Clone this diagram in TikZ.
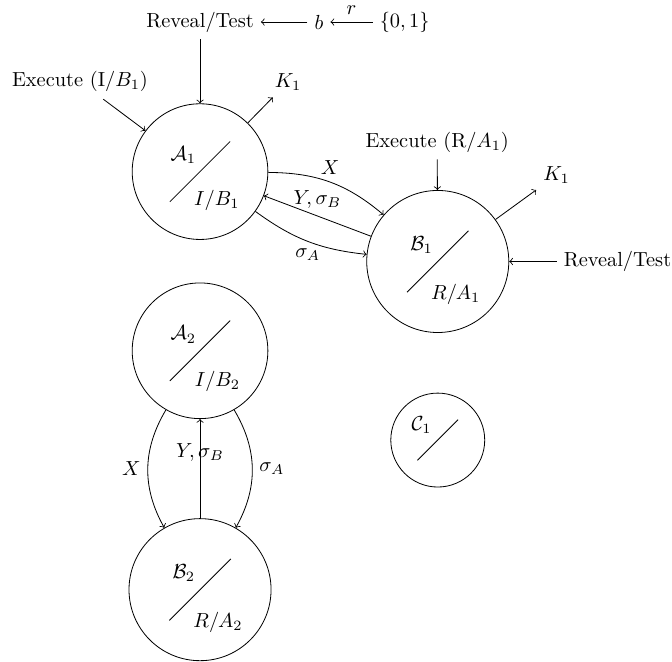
\documentclass[tikz,border=0pt]{standalone}
\usepackage{amssymb}

\begin{document}
\begin{tikzpicture}[
  party/.style={draw, circle, inner sep=0pt, minimum size=2.34cm},
  bigparty/.style={party, minimum size=2.45cm},
  smallparty/.style={party, minimum size=1.62cm}]
  \useasboundingbox (0,0) rectangle (11.59,-11.41);

  \node (A1) at (3.45,-2.96) [party] {};
  \node (B1) at (7.55,-4.51) [bigparty] {};
  \node (A2) at (3.45,-6.05) [party] {};
  \node (B2) at (3.45,-10.17) [bigparty] {};
  \node (C1) at (7.55,-7.59) [smallparty] {};

  \draw (A1.center) +(-0.52,-0.52) -- +(0.52,0.52);
  \draw (B1.center) +(-0.53,-0.53) -- +(0.53,0.53);
  \draw (A2.center) +(-0.52,-0.52) -- +(0.52,0.52);
  \draw (B2.center) +(-0.53,-0.53) -- +(0.53,0.53);
  \draw (C1.center) +(-0.35,-0.35) -- +(0.35,0.35);

  \node (A1name) at ([shift={(-0.29,0.28)}]A1.center) {$\mathcal{A}_1$};
  \node (A1role) at ([shift={(0.29,-0.49)}]A1.center) {$I/B_1$};
  \node (B1name) at ([shift={(-0.28,0.29)}]B1.center) {$\mathcal{B}_1$};
  \node (B1role) at ([shift={(0.31,-0.57)}]B1.center) {$R/A_1$};
  \node (A2name) at ([shift={(-0.29,0.28)}]A2.center) {$\mathcal{A}_2$};
  \node (A2role) at ([shift={(0.3,-0.53)}]A2.center) {$I/B_2$};
  \node (B2name) at ([shift={(-0.28,0.29)}]B2.center) {$\mathcal{B}_2$};
  \node (B2role) at ([shift={(0.31,-0.57)}]B2.center) {$R/A_2$};
  \node (C1name) at ([shift={(-0.28,0.26)}]C1.center) {$\mathcal{C}_1$};

  \node (reveal) at (3.45,-0.38) {Reveal/Test};
  \node (b) at (5.50,-0.38) {$b$};
  \node (bits) at (6.98,-0.38) {$\{0,1\}$};
  \draw[->] (b) -- (reveal);
  \draw[->] (bits) -- node[above] {$r$} (b);
  \draw[->] (reveal) -- (A1);

  \node (execA) at (1.38,-1.41) {Execute (I/$B_1$)};
  \node (keyA) at (4.97,-1.41) {$K_1$};
  \draw[->] (execA) -- (A1);
  \draw[->] (A1) -- (keyA);

  \node (execB) at (7.54,-2.45) {Execute (R/$A_1$)};
  \node (keyB) at (9.60,-3.02) {$K_1$};
  \node (revealB) at (10.65,-4.51) {Reveal/Test};
  \draw[->] (execB) -- (B1);
  \draw[->] (B1) -- (keyB);
  \draw[->] (revealB) -- (B1);

  \draw[->] (A1) to[bend left=20] node[above] {$X$} (B1);
  \draw[->] (B1) -- node[above] {$Y,\sigma_B$} (A1);
  \draw[->] (A1) to[bend right=15] node[below] {$\sigma_A$} (B1);

  \draw[->] (A2) to[bend right=30] node[left] {$X$} (B2);
  \draw[->] (B2) -- node[above] {$Y,\sigma_B$} (A2);
  \draw[->] (A2) to[bend left=30] node[right] {$\sigma_A$} (B2);
\end{tikzpicture}
\end{document}
